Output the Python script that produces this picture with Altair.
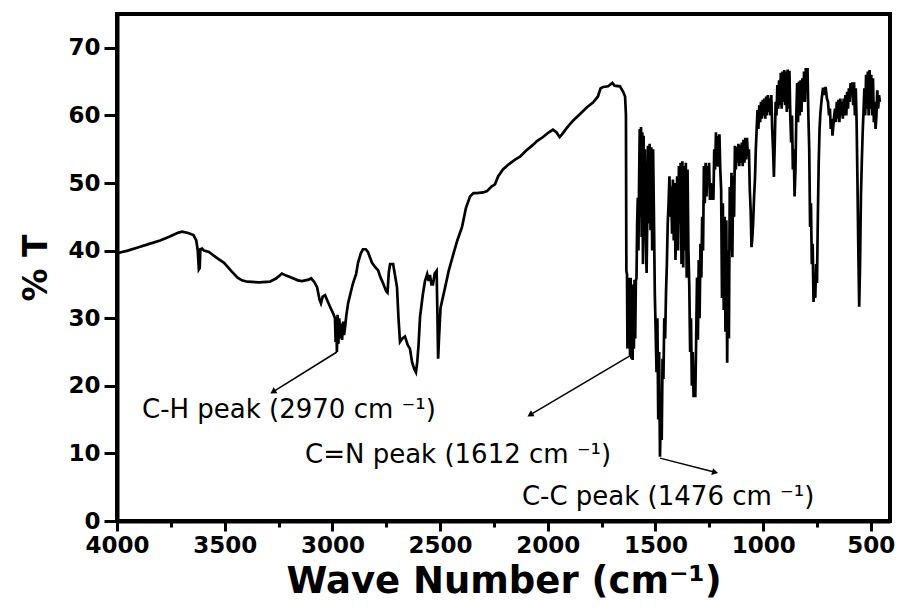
import math
import altair as alt
import pandas as pd

# ---- spectrum (wave number in cm^-1, % transmittance) ----
wavenumber = [
    4000, 3950, 3900, 3850, 3800, 3760, 3720, 3698, 3670, 3645, 3632, 3625, 3620, 3616, 3613, 3605,
    3596, 3573, 3540, 3503, 3470, 3440, 3420, 3396, 3340, 3290, 3260, 3234, 3215, 3197, 3160, 3141,
    3110, 3099, 3085, 3071, 3060, 3053, 3045, 3034, 3022, 3011, 2995, 2988, 2985, 2982, 2979, 2976,
    2972, 2968, 2963, 2958, 2955, 2950, 2946, 2941, 2935, 2927, 2915, 2904, 2890, 2881, 2868, 2858,
    2845, 2835, 2816, 2800, 2788, 2776, 2765, 2750, 2744, 2738, 2732, 2718, 2710, 2700, 2693, 2686,
    2675, 2663, 2650, 2640, 2630, 2620, 2612, 2606, 2600, 2593, 2580, 2570, 2560, 2553, 2547, 2540,
    2533, 2525, 2516, 2512, 2509, 2505, 2498, 2491, 2477, 2460, 2440, 2420, 2398, 2380, 2361, 2345,
    2329, 2300, 2282, 2260, 2245, 2230, 2208, 2180, 2150, 2129, 2100, 2070, 2050, 2022, 1995, 1976,
    1960, 1945, 1934, 1915, 1900, 1883, 1850, 1818, 1790, 1767, 1755, 1743, 1720, 1700, 1690, 1665,
    1650, 1641, 1637, 1635, 1632, 1630, 1627, 1624, 1621, 1618, 1615, 1612, 1609, 1606, 1603, 1600,
    1597, 1594, 1591, 1588, 1585, 1582, 1579, 1576, 1573, 1570, 1567, 1564, 1561, 1558, 1555, 1552,
    1549, 1545, 1541, 1538, 1535, 1531, 1527, 1523, 1519, 1515, 1511, 1507, 1503, 1499, 1495, 1491,
    1487, 1483, 1479, 1475, 1471, 1467, 1463, 1459, 1455, 1451, 1447, 1443, 1439, 1435, 1431, 1427,
    1423, 1419, 1415, 1411, 1407, 1403, 1399, 1395, 1391, 1387, 1383, 1379, 1375, 1371, 1367, 1363,
    1359, 1355, 1351, 1347, 1343, 1339, 1335, 1331, 1327, 1323, 1319, 1315, 1311, 1307, 1303, 1299,
    1295, 1291, 1287, 1283, 1279, 1275, 1271, 1267, 1263, 1259, 1255, 1251, 1247, 1243, 1239, 1235,
    1231, 1227, 1223, 1219, 1215, 1211, 1207, 1203, 1199, 1195, 1191, 1187, 1183, 1179, 1175, 1171,
    1167, 1163, 1159, 1155, 1151, 1147, 1143, 1139, 1135, 1131, 1127, 1123, 1119, 1115, 1111, 1107,
    1103, 1099, 1095, 1091, 1087, 1083, 1079, 1075, 1071, 1066, 1062, 1058, 1054, 1050, 1046, 1042,
    1038, 1034, 1030, 1026, 1022, 1018, 1014, 1010, 1006, 1002, 998, 994, 990, 986, 982, 978,
    974, 970, 966, 962, 958, 954, 950, 946, 942, 938, 934, 930, 926, 922, 918, 914,
    910, 906, 902, 898, 894, 890, 886, 882, 878, 874, 870, 866, 862, 858, 854, 850,
    846, 842, 838, 834, 830, 826, 822, 818, 814, 810, 806, 802, 798, 794, 790, 786,
    782, 778, 774, 770, 766, 762, 758, 754, 750, 746, 742, 738, 734, 728, 722, 716,
    710, 704, 699, 694, 690, 686, 682, 678, 674, 670, 666, 662, 658, 654, 650, 646,
    642, 638, 634, 630, 626, 622, 618, 614, 610, 606, 602, 598, 594, 590, 586, 582,
    578, 574, 570, 566, 562, 558, 554, 550, 546, 542, 538, 534, 530, 526, 522, 518,
    514, 510, 506, 502, 498, 494, 490, 486, 482, 478, 474, 470, 466, 462, 458,
]
transmittance = [
    39.6, 40.0, 40.5, 41.0, 41.5, 42.0, 42.6, 42.8, 42.6, 42.3, 41.5, 40.0, 37.2, 37.4, 40.2, 40.3,
    40.0, 39.8, 39.0, 38.2, 37.0, 36.0, 35.6, 35.4, 35.3, 35.4, 35.9, 36.6, 36.3, 36.1, 35.6, 35.5,
    35.7, 35.9, 35.4, 34.6, 32.8, 32.2, 33.2, 33.4, 32.5, 31.7, 30.6, 30.0, 26.5, 29.8, 25.0, 30.5,
    26.2, 30.0, 27.0, 29.2, 26.8, 29.5, 27.5, 28.7, 30.5, 32.2, 33.8, 35.2, 36.5, 38.2, 39.6, 40.2,
    40.2, 39.8, 38.2, 37.5, 37.1, 36.0, 35.2, 34.0, 33.8, 36.8, 38.0, 38.0, 36.5, 34.6, 30.0, 26.5,
    27.0, 27.3, 26.0, 25.5, 23.5, 22.5, 22.0, 23.5, 26.0, 30.2, 33.5, 35.5, 36.5, 35.5, 36.4, 35.0,
    35.0, 36.6, 37.0, 30.0, 24.0, 27.0, 31.5, 32.5, 34.5, 37.0, 39.3, 41.5, 43.5, 46.3, 48.0, 48.5,
    48.5, 48.6, 48.8, 49.5, 49.8, 51.0, 52.0, 52.8, 53.5, 53.9, 54.8, 55.6, 56.2, 56.8, 57.5, 57.9,
    57.5, 56.8, 57.2, 58.0, 58.6, 59.2, 60.2, 61.2, 61.9, 62.8, 64.0, 64.2, 64.3, 64.8, 64.4, 64.3,
    63.5, 62.8, 60.0, 37.0, 36.5, 25.5, 36.0, 26.0, 35.5, 24.5, 36.0, 24.0, 35.0, 23.8, 34.0, 25.5,
    35.7, 27.0, 35.5, 36.0, 44.0, 47.8, 40.0, 50.0, 58.0, 45.0, 58.3, 42.0, 57.5, 38.0, 57.0, 46.0,
    55.0, 42.0, 36.7, 45.0, 55.5, 44.0, 55.8, 43.0, 55.3, 40.0, 55.0, 45.0, 33.7, 28.0, 22.0, 30.0,
    15.0, 25.0, 9.5, 16.0, 12.0, 24.0, 21.0, 30.0, 27.0, 33.7, 38.0, 44.0, 47.0, 51.0, 45.0, 49.5,
    42.5, 50.5, 41.5, 50.0, 38.6, 46.0, 51.0, 40.0, 52.5, 44.0, 53.0, 38.0, 53.2, 37.5, 52.5, 40.0,
    53.0, 36.0, 52.0, 40.0, 35.0, 25.0, 30.0, 20.0, 25.0, 18.3, 22.0, 18.3, 26.8, 36.0, 26.8, 38.6,
    30.0, 41.0, 36.0, 45.0, 40.0, 52.5, 47.0, 53.0, 48.0, 52.5, 50.0, 53.0, 47.5, 50.0, 47.5, 49.0,
    47.5, 55.0, 52.0, 57.5, 52.5, 57.0, 52.4, 57.2, 52.0, 49.0, 33.0, 47.0, 31.2, 45.0, 28.0, 44.5,
    23.4, 40.0, 27.0, 49.4, 40.0, 51.5, 39.0, 51.0, 45.0, 55.5, 52.0, 55.3, 53.0, 55.8, 52.5, 55.6,
    53.0, 56.0, 52.5, 56.4, 53.0, 56.7, 53.5, 56.7, 54.0, 55.0, 49.0, 46.0, 40.5, 42.0, 44.5, 48.0,
    50.5, 55.0, 58.0, 60.8, 58.0, 61.5, 59.0, 62.0, 59.5, 62.3, 60.0, 62.5, 59.5, 62.8, 60.0, 63.0,
    60.5, 62.5, 60.0, 63.0, 58.0, 55.0, 50.9, 56.0, 62.0, 60.0, 64.5, 61.0, 65.2, 61.5, 66.3, 61.0,
    66.5, 62.0, 66.7, 61.5, 66.5, 60.5, 66.8, 61.0, 66.6, 60.0, 56.0, 60.0, 52.0, 55.0, 48.0, 52.0,
    60.0, 64.8, 59.0, 65.0, 60.0, 65.2, 60.5, 65.5, 62.0, 66.5, 62.0, 67.0, 63.5, 67.0, 60.0, 55.0,
    43.5, 47.0, 38.0, 41.0, 32.4, 36.0, 33.0, 38.0, 35.2, 45.0, 53.0, 58.0, 60.4, 62.5, 64.1, 63.0,
    64.2, 62.5, 62.0, 60.0, 61.0, 58.0, 59.5, 57.0, 58.5, 60.0, 61.0, 59.0, 62.0, 59.5, 62.3, 59.0,
    62.5, 60.0, 62.0, 59.5, 62.5, 60.0, 63.0, 60.0, 63.5, 61.0, 64.0, 62.0, 64.8, 63.5, 64.9, 61.5,
    64.9, 60.0, 64.0, 59.0, 50.0, 40.0, 31.7, 38.0, 48.0, 53.0, 57.4, 60.5, 64.0, 60.0, 66.0, 61.0,
    66.5, 60.0, 66.7, 61.0, 66.0, 60.0, 65.5, 59.0, 62.0, 58.0, 60.0, 63.7, 61.0, 63.0, 62.0,
]

# ---- annotations ----
ann_text = ["C-H peak (2970 cm \u207b\u00b9)", "C=N peak (1612 cm \u207b\u00b9)", "C-C peak (1476 cm \u207b\u00b9)"]
ann_text_x = [3884, 3127, 2120]
ann_text_y = [16.4, 9.8, 3.55]
arrow_x1 = [2979, 1609, 1479]
arrow_y1 = [25.0, 24.6, 9.3]
arrow_x2 = [3276, 2082, 1223]
arrow_y2 = [19.1, 15.7, 7.2]

X_MIN, X_MAX = 411, 4000
Y_MIN, Y_MAX = 0, 75
W, H = 773, 507

spec = pd.DataFrame({"wn": wavenumber, "T": transmittance})
labels = pd.DataFrame({"x": ann_text_x, "y": ann_text_y, "t": ann_text})
arrows = pd.DataFrame({"x1": arrow_x1, "y1": arrow_y1, "x2": arrow_x2, "y2": arrow_y2})
# arrow-head orientation in screen space (x axis reversed, y axis up)
arrows["ang"] = [
    math.degrees(math.atan2(-(b2 - b1) * H / (Y_MAX - Y_MIN), -(a2 - a1) * W / (X_MAX - X_MIN))) % 360
    for a1, b1, a2, b2 in zip(arrow_x1, arrow_y1, arrow_x2, arrow_y2)
]

FONT = "DejaVu Sans"

xscale = alt.Scale(domain=[X_MIN, X_MAX], reverse=True, nice=False, zero=False)
yscale = alt.Scale(domain=[Y_MIN, Y_MAX], nice=False, zero=False)

x_axis = alt.Axis(
    title="Wave Number (cm\u207b\u00b9)",
    values=list(range(500, 4001, 250)),
    format="d",
    labelExpr="datum.value % 500 === 0 ? datum.label : ''",
    tickSize={"condition": {"test": "datum.value % 500 === 0", "value": 10}, "value": 6},
    labelFlush=False,
    labelOverlap=False,
    grid=False,
    domainWidth=4,
    domainColor="black",
    tickWidth=3,
    tickColor="black",
    labelFont=FONT,
    labelFontWeight="bold",
    labelFontSize=23,
    labelColor="black",
    labelPadding=3,
    titleFont=FONT,
    titleFontWeight="bold",
    titleFontSize=37,
    titleColor="black",
    titlePadding=6,
)
y_axis = alt.Axis(
    title="% T",
    values=list(range(0, 71, 5)),
    labelExpr="datum.value % 10 === 0 ? datum.label : ''",
    tickSize={"condition": {"test": "datum.value % 10 === 0", "value": 13}, "value": 8},
    labelOverlap=False,
    labelFlush=False,
    grid=False,
    domainWidth=4,
    domainColor="black",
    tickWidth=3,
    tickColor="black",
    labelFont=FONT,
    labelFontWeight="bold",
    labelFontSize=23,
    labelColor="black",
    labelPadding=4,
    titleFont=FONT,
    titleFontWeight="bold",
    titleFontSize=33,
    titleColor="black",
    titlePadding=14,
)

line = alt.Chart(spec).mark_line(color="black", strokeWidth=2.7, strokeJoin="miter").encode(
    x=alt.X("wn:Q", scale=xscale, axis=x_axis),
    y=alt.Y("T:Q", scale=yscale, axis=y_axis),
)

arrow_lines = alt.Chart(arrows).mark_rule(color="black", strokeWidth=1.5).encode(
    x=alt.X("x1:Q", scale=xscale),
    y=alt.Y("y1:Q", scale=yscale),
    x2="x2:Q",
    y2="y2:Q",
)

arrow_heads = alt.Chart(arrows).mark_point(
    shape="triangle-right", filled=True, color="black", size=50, opacity=1
).encode(
    x=alt.X("x2:Q", scale=xscale),
    y=alt.Y("y2:Q", scale=yscale),
    angle=alt.Angle("ang:Q", scale=None),
)

texts = alt.Chart(labels).mark_text(
    align="left", baseline="middle", font=FONT, fontSize=26, color="black"
).encode(
    x=alt.X("x:Q", scale=xscale),
    y=alt.Y("y:Q", scale=yscale),
    text="t:N",
)

chart = (
    alt.layer(line, arrow_lines, arrow_heads, texts)
    .properties(
        width=W,
        height=H,
        autosize=alt.AutoSizeParams(type="none"),
        padding={"left": 117, "top": 14, "right": 10, "bottom": 91},
        background="white",
    )
    .configure_view(stroke="black", strokeWidth=4)
)

chart.save("out.html", embed_options={"renderer": "svg", "actions": False})
